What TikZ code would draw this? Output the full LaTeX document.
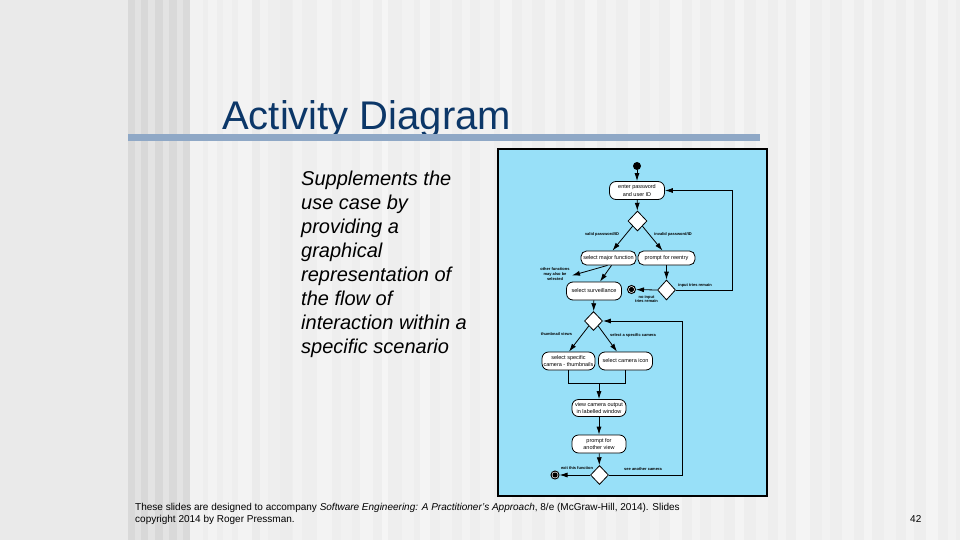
\documentclass[tikz,border=0pt]{standalone}
\usepackage{fontspec}
\setmainfont{Liberation Sans}
\usetikzlibrary{arrows.meta,shapes.geometric,calc}
\definecolor{titleblue}{HTML}{0C3768}
\definecolor{barblue}{HTML}{8FA8C6}
\definecolor{diagblue}{HTML}{98E0F8}
\definecolor{bgleft}{HTML}{EAEAEA}
\definecolor{bgright}{HTML}{EEEEEE}
\begin{document}
\begin{tikzpicture}[x=1pt,y=-1pt,
  act/.style={draw=black, fill=white, line width=0.8pt, rounded corners=6.5pt,
    minimum height=18pt, inner sep=0pt, align=center,
    font=\fontsize{5.5}{7.5}\selectfont},
  dec/.style={diamond, draw=black, fill=white, line width=0.8pt,
    minimum width=18pt, minimum height=19pt, inner sep=0pt},
  startnode/.style={circle, fill=black, minimum size=8pt, inner sep=0pt},
  endnode/.style={circle, draw=black, fill=white, line width=1pt, minimum size=8pt, inner sep=0pt,
    path picture={\fill[black] (path picture bounding box.center) circle (2.6pt);}},
  flow/.style={draw=black, line width=0.8pt, -{Latex[length=8pt,width=5pt]}},
  plain/.style={draw=black, line width=0.8pt},
  lab/.style={font=\bfseries\fontsize{4}{4.8}\selectfont, inner sep=0pt, align=center},
  body/.style={font=\itshape\fontsize{20}{24}\selectfont, inner sep=0pt, align=left},
  foot/.style={font=\fontsize{10}{12}\selectfont, inner sep=0pt}
]
\useasboundingbox (0,0) rectangle (960,540);
% background
\fill[bgright] (0,0) rectangle (960,540);
\fill[bgleft] (0,0) rectangle (128,540);
\foreach \a/\b/\c in {128/135/217,135/141/226,141/148/216,148/155/227,155/163/216,163/169/227,169/177/217,177/183/227,183/190/218}
  {\definecolor{stripe}{RGB}{\c,\c,\c}\fill[stripe] (\a,0) rectangle (\b,540);}
\foreach \a/\b/\c in {190/203/242,208/217/243,223/232/242,238/252/243,252/260/235,260/268/242,280/292/236,293/302/242,317/332/243,341/352/241,360/373/243,382/388/245,402/414/242,420/430/244,440/452/242,462/470/243,480/494/242,500/512/244,522/532/242,545/556/243,565/574/242,585/597/244,606/616/242,628/640/243,650/659/242,670/682/244,692/700/243,711/724/242,735/744/244,756/768/242,778/786/243,796/810/244,822/830/242,842/854/243,864/872/244,884/896/242,906/914/243,926/938/244,948/956/242}
  {\definecolor{stripe}{RGB}{\c,\c,\c}\fill[stripe] (\a,0) rectangle (\b,540);}
% title and bar
\node[anchor=base west, inner sep=0pt, text=titleblue, font=\fontsize{40}{44}\selectfont] (title) at (222,129.5) {Activity Diagram};
\fill[barblue] (128,134) rectangle (760,141);
% body text
\node[body, anchor=north west] (bodytext) at (301,170.5) {Supplements the\\use case by\\providing a\\graphical\\representation of\\the flow of\\interaction within a\\specific scenario};
% diagram panel
\draw[fill=diagblue, draw=black, line width=2pt] (497.5,149.5) rectangle (766.5,495.5);
% nodes
\node[startnode] (init) at (637,166) {};
\node[act, minimum width=55pt] (enter) at (637,190.5) {enter password\\and user ID};
\node[dec, minimum width=19pt, minimum height=20pt] (d1) at (637.5,221) {};
\node[act, minimum width=55pt, minimum height=14pt, rounded corners=5.5pt] (major) at (608.5,258) {select major function};
\node[act, minimum width=57pt, minimum height=14pt, rounded corners=5.5pt] (reentry) at (666.5,258) {prompt for reentry};
\node[act, minimum width=55pt] (surv) at (594,291) {select surveillance};
\node[dec, minimum height=20pt] (d2) at (666.5,290) {};
\node[endnode] (fin1) at (631.5,289.5) {};
\node[dec] (d3) at (593.5,321) {};
\node[act, minimum width=53pt] (thumb) at (568.5,361) {select specific\\camera - thumbnails};
\node[act, minimum width=54pt] (icon) at (625.5,361) {select camera icon};
\node[act, minimum width=54pt, minimum height=17pt] (view) at (599,408) {view camera output\\in labelled window};
\node[act, minimum width=54pt] (prompt) at (599,444) {prompt for\\another view};
\node[dec] (d4) at (599.5,475) {};
\node[endnode] (fin2) at (555,475) {};
% labels
\node[lab] (lvalid) at (602,234) {valid password/ID};
\node[lab] (linvalid) at (673,234) {invalid password/ID};
\node[lab] (lother) at (555,274) {other functions\\may also be\\selected};
\node[lab] (lremain) at (695,285.5) {input tries remain};
\node[lab] (lnoinput) at (646.5,299) {no input\\tries remain};
\node[lab] (lthumb) at (556.5,334.5) {thumbnail views};
\node[lab] (lspecific) at (633,335) {select a specific camera};
\node[lab] (lexit) at (577,468.5) {exit this function};
\node[lab] (lsee) at (643,469) {see another camera};
% coordinates
\coordinate (ofx) at (572,275.5);
\coordinate (r1) at (732,290);
\coordinate (r2) at (682,475);
\coordinate (join) at (599,383);
% connectors
\draw[flow] (init) -- (enter);
\draw[flow] (enter) -- (d1);
\draw[flow] (d1.south west) -- ([xshift=4pt]major.north);
\draw[flow] (d1.south east) -- ([xshift=-4pt]reentry.north);
\draw[flow] ([xshift=-1pt]major.south) -- (ofx);
\draw[flow] ([xshift=3pt]major.south) -- ([xshift=6pt]surv.north);
\draw[flow] (reentry) -- (d2);
\draw[flow] (d2.east) -- (r1) |- (enter.east);
\draw[flow] (d2.west) -- (fin1);
\draw[flow] (surv) -- (d3);
\draw[flow] (d3.south west) -- ([xshift=0.5pt]thumb.north);
\draw[flow] (d3.south east) -- ([xshift=-8.5pt]icon.north);
\draw[plain] (thumb.south) |- (join);
\draw[plain] (icon.south) |- (join);
\draw[flow] (join) -- (view.north);
\draw[flow] (view) -- (prompt);
\draw[flow] (prompt) -- (d4);
\draw[flow] (d4.west) -- (fin2);
\draw[flow] (d4.east) -- (r2) |- (d3.east);
% footer
\node[foot, anchor=base west] (foot1) at (135,510) {These slides are designed to accompany \textit{Software Engineering: A Practitioner's Approach}, 8/e (McGraw-Hill, 2014). Slides};
\node[foot, anchor=base west] (foot2) at (135,522) {copyright 2014 by Roger Pressman.};
\node[foot, anchor=base west] (pagenum) at (910,522) {42};
\end{tikzpicture}
\end{document}
